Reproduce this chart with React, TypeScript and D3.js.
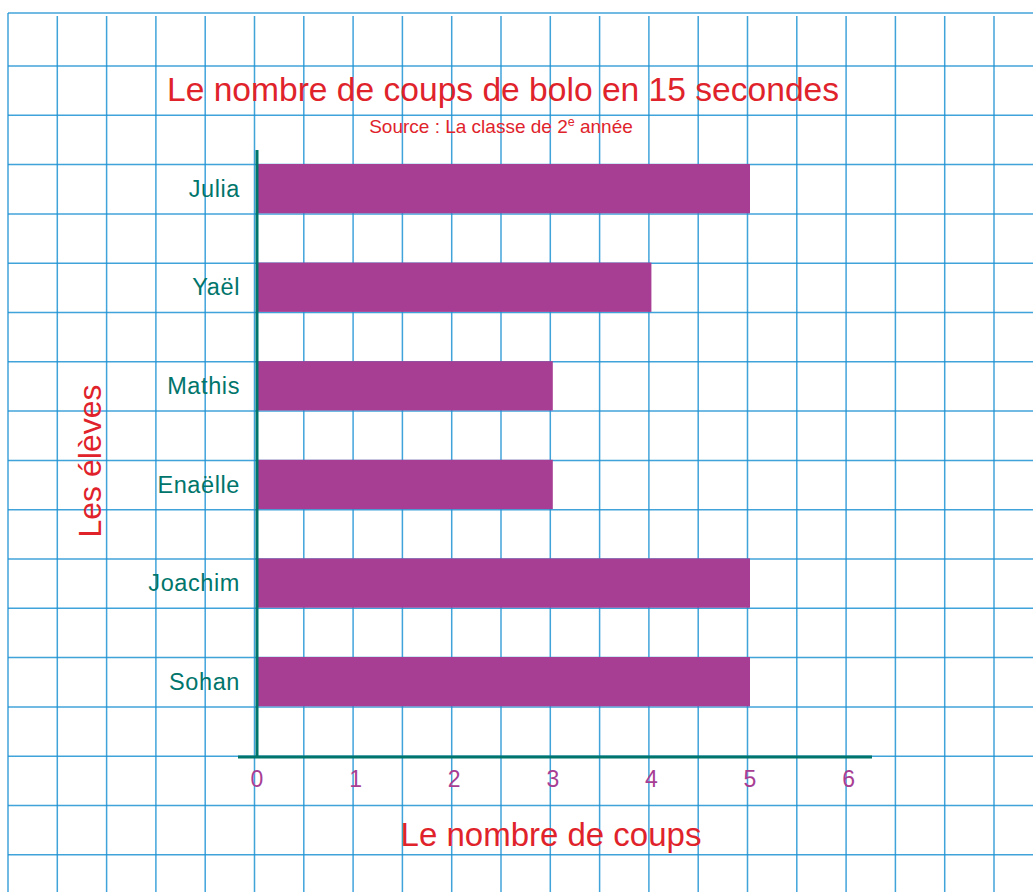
import React from 'react';
import * as d3 from 'd3';

// Data
const students = ['Julia', 'Yaël', 'Mathis', 'Enaëlle', 'Joachim', 'Sohan'];
const coups = [5, 4, 3, 3, 5, 5];
const tickValues = [0, 1, 2, 3, 4, 5, 6];

const W = 1033;
const H = 892;
const cell = 49.3;
const gridLeft = 8;
const gridTop = 13;
const firstRow = 66;

const RED = '#e0232b';
const TEAL = '#00756b';
const PURPLE = '#a83e93';
const GRID = '#1f93d4';
const FONT = '"Liberation Sans", Arial, sans-serif';

const App: React.FC = () => {
  // x scale: 2 grid cells per unit, zero on the y axis
  const x = d3.scaleLinear().domain([0, 6]).range([257, 257 + 6 * 2 * cell]);
  // one bar per grid row with an empty row between
  const y = d3
    .scaleBand<string>()
    .domain(students)
    .range([164, 164 + 6 * 2 * cell])
    .paddingInner(0.5)
    .paddingOuter(0.25)
    .align(0);

  const axisY = 757;

  const vLines = d3.range(gridLeft, W, cell);
  const hLines = d3.range(firstRow, H, cell);

  return (
    <svg
      width={W}
      height={H}
      style={{ position: 'absolute', left: 0, top: 0, background: '#fff' }}
      fontFamily={FONT}
    >
      {/* squared paper */}
      <g stroke={GRID} strokeWidth={1.5} strokeOpacity={0.85}>
        <line x1={gridLeft} x2={W} y1={gridTop} y2={gridTop} />
        {hLines.map((yy, i) => (
          <line key={'h' + i} x1={gridLeft} x2={W} y1={yy} y2={yy} />
        ))}
        {vLines.map((xx, i) => (
          <line key={'v' + i} x1={xx} x2={xx} y1={i === 0 ? gridTop : 16} y2={H} />
        ))}
      </g>

      {/* title */}
      <text x={503} y={101} textAnchor="middle" fontSize={33.6} fill={RED}>
        Le nombre de coups de bolo en 15 secondes
      </text>
      <text x={501} y={133} textAnchor="middle" fontSize={19} fill={RED}>
        Source : La classe de 2<tspan fontSize={12.5} dy={-7}>e</tspan>
        <tspan dy={7}> année</tspan>
      </text>

      {/* bars */}
      {students.map((s, i) => (
        <rect
          key={s}
          x={x(0)}
          y={y(s)}
          width={x(coups[i]) - x(0)}
          height={y.bandwidth()}
          fill={PURPLE}
        />
      ))}

      {/* category labels */}
      {students.map((s) => (
        <text
          key={'l' + s}
          x={240}
          y={(y(s) as number) + y.bandwidth() / 2}
          dy="0.35em"
          textAnchor="end"
          fontSize={23.5}
          letterSpacing={0.6}
          fill={TEAL}
        >
          {s}
        </text>
      ))}

      {/* axes */}
      <line x1={x(0)} x2={x(0)} y1={150} y2={axisY} stroke={TEAL} strokeWidth={3} />
      <line x1={238} x2={872} y1={axisY} y2={axisY} stroke={TEAL} strokeWidth={3} />

      {tickValues.map((t) => (
        <text
          key={'t' + t}
          x={x(t)}
          y={779}
          dy="0.35em"
          textAnchor="middle"
          fontSize={23}
          fill={PURPLE}
        >
          {t}
        </text>
      ))}

      {/* axis titles */}
      <text x={551} y={846} textAnchor="middle" fontSize={33} fill={RED}>
        Le nombre de coups
      </text>
      <text
        transform={`translate(101,461) rotate(-90)`}
        textAnchor="middle"
        fontSize={32}
        fill={RED}
      >
        Les élèves
      </text>
    </svg>
  );
};

export default App;
